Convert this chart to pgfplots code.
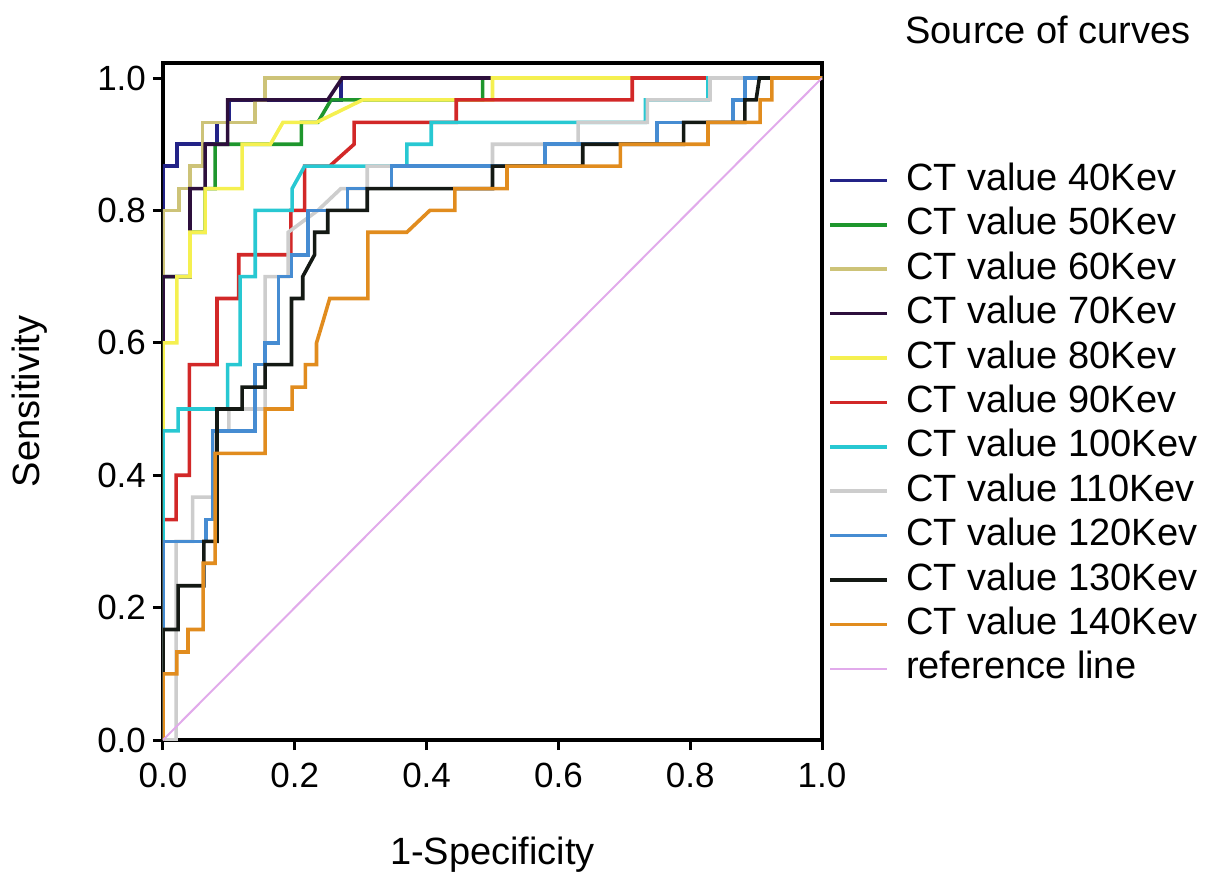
\documentclass[border=0pt]{standalone}
\usepackage{fontspec}
\setmainfont{Liberation Sans}
\usepackage{pgfplots}
\pgfplotsset{compat=1.18}

\definecolor{kev40}{RGB}{35,35,135}
\definecolor{kev50}{RGB}{30,150,45}
\definecolor{kev60}{RGB}{205,195,120}
\definecolor{kev70}{RGB}{45,15,60}
\definecolor{kev80}{RGB}{245,240,80}
\definecolor{kev90}{RGB}{210,40,40}
\definecolor{kev100}{RGB}{40,200,210}
\definecolor{kev110}{RGB}{205,205,205}
\definecolor{kev120}{RGB}{70,140,210}
\definecolor{kev130}{RGB}{20,25,20}
\definecolor{kev140}{RGB}{225,140,30}
\definecolor{refline}{RGB}{225,170,235}

\begin{document}
\begin{tikzpicture}
\begin{axis}[
    scale only axis,
    width=329.5pt, height=338.5pt,
    xmin=0, xmax=1, ymin=0, ymax=1.0227,
    xtick={0,0.2,0.4,0.6,0.8,1},
    ytick={0,0.2,0.4,0.6,0.8,1},
    xtick pos=bottom, ytick pos=left,
    tick align=outside, major tick length=5pt,
    tick style={black, line width=1.5pt},
    axis line style={line width=2pt},
    tick label style={font=\fontsize{17.5}{20}\selectfont,
        /pgf/number format/fixed, /pgf/number format/fixed zerofill,
        /pgf/number format/precision=1, /pgf/number format/assume math mode=true},
    xticklabel style={yshift=-3pt},
    xlabel={1-Specificity}, ylabel={Sensitivity},
    label style={font=\fontsize{19}{22}\selectfont},
    xlabel style={at={(axis description cs:0.5,-0.17)}, anchor=center},
    ylabel style={at={(axis description cs:-0.202,0.5)}, anchor=center},
    every axis plot/.append style={line width=1.8pt, sharp plot, no markers},
    legend cell align=left,
    legend style={draw=none, fill=none, inner sep=0pt,
        at={(axis description cs:1,1)}, anchor=north west,
        xshift=3pt, yshift=-49.5pt,
        font=\fontsize{19}{22}\selectfont,
        nodes={inner ysep=0pt, text height=14pt, text depth=4pt},
        row sep=4.2pt,
        /tikz/every odd column/.append style={column sep=6.5pt}},
    legend image code/.code={\draw[#1] (0pt,0pt) -- (28.5pt,0pt);},
]
% 40 Kev
\addplot[kev40] coordinates {(0,0)(0,0.867)(0.021,0.867)(0.021,0.9)(0.082,0.9)(0.082,0.933)(0.1,0.933)(0.1,0.967)(0.27,0.967)(0.27,1)(1,1)};
% 50 Kev
\addplot[kev50] coordinates {(0,0)(0,0.7)(0.041,0.7)(0.041,0.767)(0.064,0.767)(0.064,0.833)(0.079,0.833)(0.079,0.9)(0.21,0.9)(0.21,0.933)(0.235,0.933)(0.255,0.967)(0.485,0.967)(0.485,1)(1,1)};
% 60 Kev
\addplot[kev60] coordinates {(0,0)(0,0.8)(0.024,0.8)(0.024,0.833)(0.041,0.833)(0.041,0.867)(0.06,0.867)(0.06,0.933)(0.14,0.933)(0.14,0.967)(0.155,0.967)(0.155,1)(1,1)};
% 70 Kev
\addplot[kev70] coordinates {(0,0)(0,0.7)(0.041,0.7)(0.041,0.833)(0.064,0.833)(0.064,0.9)(0.098,0.9)(0.098,0.967)(0.25,0.967)(0.272,1)(1,1)};
% 80 Kev
\addplot[kev80] coordinates {(0,0)(0,0.6)(0.021,0.6)(0.021,0.7)(0.041,0.7)(0.041,0.767)(0.064,0.767)(0.064,0.833)(0.12,0.833)(0.12,0.9)(0.163,0.9)(0.182,0.933)(0.233,0.933)(0.303,0.967)(0.5,0.967)(0.5,1)(1,1)};
% 90 Kev
\addplot[kev90] coordinates {(0,0)(0,0.333)(0.02,0.333)(0.02,0.4)(0.04,0.4)(0.04,0.567)(0.082,0.567)(0.082,0.667)(0.115,0.667)(0.115,0.733)(0.194,0.733)(0.194,0.8)(0.215,0.8)(0.215,0.867)(0.253,0.867)(0.29,0.9)(0.29,0.933)(0.445,0.933)(0.445,0.967)(0.712,0.967)(0.712,1)(1,1)};
% 100 Kev
\addplot[kev100] coordinates {(0,0)(0,0.467)(0.023,0.467)(0.023,0.5)(0.098,0.5)(0.098,0.567)(0.117,0.567)(0.117,0.7)(0.14,0.7)(0.14,0.8)(0.196,0.8)(0.196,0.833)(0.215,0.867)(0.37,0.867)(0.37,0.9)(0.407,0.9)(0.407,0.933)(0.732,0.933)(0.732,0.967)(0.827,0.967)(0.827,1)(1,1)};
% 110 Kev
\addplot[kev110] coordinates {(0,0)(0.02,0)(0.02,0.3)(0.045,0.3)(0.045,0.367)(0.077,0.367)(0.077,0.467)(0.1,0.467)(0.1,0.5)(0.155,0.5)(0.155,0.7)(0.19,0.7)(0.19,0.767)(0.235,0.8)(0.27,0.833)(0.31,0.833)(0.31,0.867)(0.5,0.867)(0.5,0.9)(0.63,0.9)(0.63,0.933)(0.735,0.933)(0.735,0.967)(0.83,0.967)(0.83,1)(1,1)};
% 120 Kev
\addplot[kev120] coordinates {(0,0)(0,0.3)(0.065,0.3)(0.065,0.333)(0.075,0.333)(0.075,0.467)(0.14,0.467)(0.14,0.567)(0.155,0.567)(0.155,0.6)(0.175,0.6)(0.175,0.7)(0.195,0.7)(0.195,0.733)(0.22,0.733)(0.22,0.8)(0.28,0.8)(0.28,0.833)(0.347,0.833)(0.347,0.867)(0.58,0.867)(0.58,0.9)(0.75,0.9)(0.75,0.933)(0.865,0.933)(0.865,0.967)(0.883,0.967)(0.883,1)(1,1)};
% 130 Kev
\addplot[kev130] coordinates {(0,0)(0,0.167)(0.023,0.167)(0.023,0.233)(0.062,0.233)(0.062,0.3)(0.082,0.3)(0.082,0.5)(0.12,0.5)(0.12,0.533)(0.155,0.533)(0.155,0.567)(0.195,0.567)(0.195,0.667)(0.212,0.667)(0.212,0.7)(0.23,0.733)(0.23,0.767)(0.25,0.767)(0.25,0.8)(0.31,0.8)(0.31,0.833)(0.5,0.833)(0.5,0.867)(0.637,0.867)(0.637,0.9)(0.79,0.9)(0.79,0.933)(0.883,0.933)(0.883,0.967)(0.9,0.967)(0.905,1)(1,1)};
% 140 Kev
\addplot[kev140] coordinates {(0,0)(0,0.1)(0.021,0.1)(0.021,0.133)(0.038,0.133)(0.038,0.167)(0.061,0.167)(0.061,0.267)(0.079,0.267)(0.079,0.433)(0.155,0.433)(0.155,0.5)(0.196,0.5)(0.196,0.533)(0.216,0.533)(0.216,0.567)(0.233,0.567)(0.233,0.6)(0.243,0.633)(0.253,0.667)(0.311,0.667)(0.311,0.767)(0.37,0.767)(0.405,0.8)(0.443,0.8)(0.443,0.833)(0.522,0.833)(0.522,0.867)(0.694,0.867)(0.694,0.9)(0.827,0.9)(0.827,0.933)(0.906,0.933)(0.906,0.967)(0.924,0.967)(0.924,1)(1,1)};
% reference line
\addplot[refline, line width=1pt] coordinates {(0,0)(1,1)};
\legend{CT value 40Kev, CT value 50Kev, CT value 60Kev, CT value 70Kev, CT value 80Kev, CT value 90Kev, CT value 100Kev, CT value 110Kev, CT value 120Kev, CT value 130Kev, CT value 140Kev, reference line}
\end{axis}
\node[anchor=west, font=\fontsize{19}{22}\selectfont, inner sep=0pt]
    at ([xshift=41.5pt,yshift=16.5pt]current axis.north east) {Source of curves};
\path ([xshift=-81.5pt,yshift=-69pt]current axis.south west)
    rectangle ([xshift=194pt,yshift=31.5pt]current axis.north east);
\end{tikzpicture}
\end{document}
